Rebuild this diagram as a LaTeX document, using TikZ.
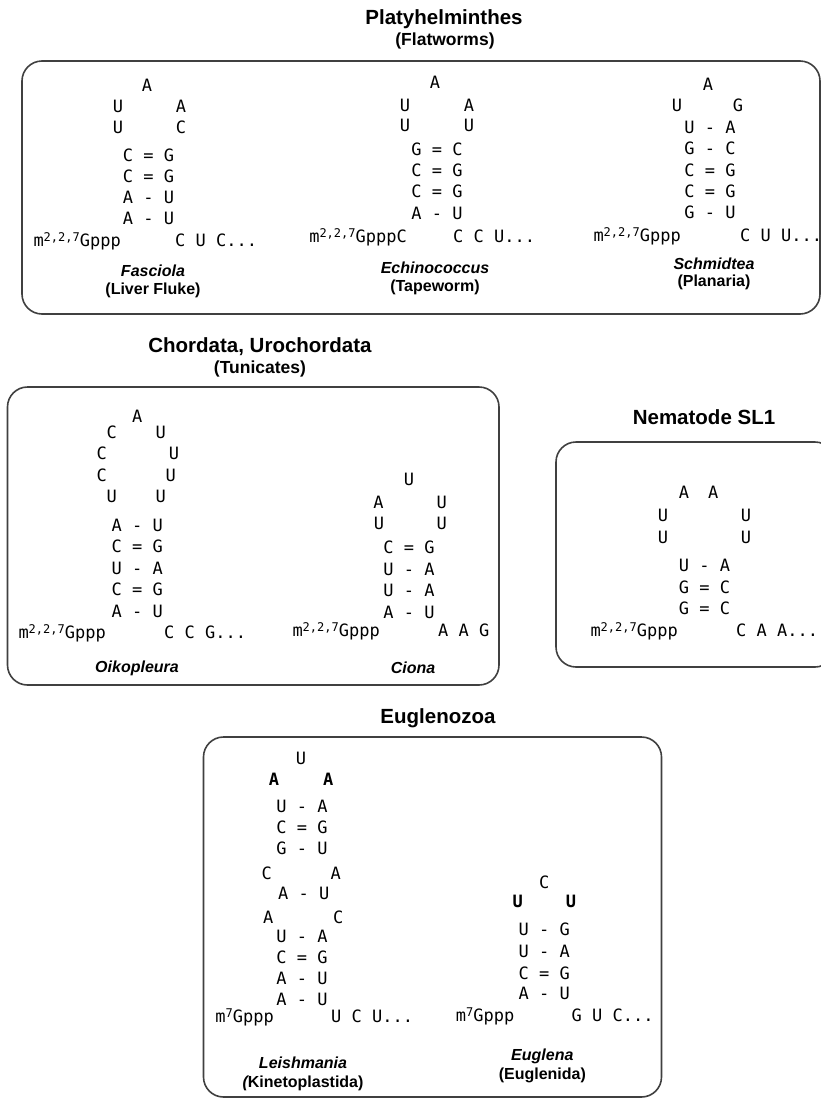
\documentclass[tikz,border=0pt]{standalone}
\usepackage{fontspec}
\setmainfont{Liberation Sans}
\newfontfamily\ntfont{DejaVu Sans Mono}
\newcommand\mcap[1]{m\raisebox{5pt}{\fontsize{12}{12}\selectfont #1}Gppp}
\tikzset{
 nt/.style={font=\ntfont\fontsize{17}{17}\selectfont, inner sep=0pt, text height=12.4pt, text depth=0pt},
 ntb/.style={nt, font=\ntfont\bfseries\fontsize{17}{17}\selectfont},
 ttl/.style={font=\bfseries\fontsize{20.5}{22}\selectfont, inner sep=0pt},
 subttl/.style={font=\bfseries\fontsize{17.5}{19}\selectfont, inner sep=0pt},
 spec/.style={font=\bfseries\itshape\fontsize{16}{18}\selectfont, inner sep=0pt},
 grp/.style={font=\bfseries\fontsize{16}{18}\selectfont, inner sep=0pt},
 panel/.style={draw=black!75, line width=1.6pt, rounded corners=20pt},
}
\begin{document}
\begin{tikzpicture}[x=1pt,y=-1pt]
\useasboundingbox (0,0) rectangle (821,1098);
\fill[white] (0,0) rectangle (821,1098);

% ---------------- Platyhelminthes ----------------
\node[ttl] (t1) at (444,19) {Platyhelminthes};
\node[subttl] (t1s) at (445,41) {(Flatworms)};
\draw[panel] (22,61) rectangle (820,314);

% Fasciola
\node[nt] (fa1) at (147,85) {A};
\node[nt] (fa2) at (118,106.5) {U};
\node[nt] (fa3) at (181,106.5) {A};
\node[nt] (fa4) at (118,127) {U};
\node[nt] (fa5) at (181,127) {C};
\node[nt] (fp1) at (148.5,155.5) {C = G};
\node[nt] (fp2) at (148.5,176.5) {C = G};
\node[nt] (fp3) at (148.5,197.5) {A - U};
\node[nt] (fp4) at (148.5,218.5) {A - U};
\node[nt,anchor=east] (fm) at (121,240) {\mcap{2,2,7}};
\node[nt,anchor=west] (ft) at (175,240) {C U C...};
\node[spec] (fs) at (153,271) {Fasciola};
\node[grp] (fg) at (153,290) {(Liver Fluke)};

% Echinococcus
\node[nt] (ea1) at (435,82.5) {A};
\node[nt] (ea2) at (405,105) {U};
\node[nt] (ea3) at (469,105) {A};
\node[nt] (ea4) at (405,125) {U};
\node[nt] (ea5) at (469,125) {U};
\node[nt] (ep1) at (437,149) {G = C};
\node[nt] (ep2) at (437,170) {C = G};
\node[nt] (ep3) at (437,191.5) {C = G};
\node[nt] (ep4) at (437,213) {A - U};
\node[nt,anchor=east] (em) at (407,236) {\mcap{2,2,7}C};
\node[nt,anchor=west] (et) at (453,236) {C C U...};
\node[spec] (es) at (435,268) {Echinococcus};
\node[grp] (eg) at (435,287) {(Tapeworm)};

% Schmidtea
\node[nt] (sa1) at (708,84) {A};
\node[nt] (sa2) at (677,105) {U};
\node[nt] (sa3) at (738,105) {G};
\node[nt] (sp1) at (710,127) {U - A};
\node[nt] (sp2) at (710,148.5) {G - C};
\node[nt] (sp3) at (710,170) {C = G};
\node[nt] (sp4) at (710,191) {C = G};
\node[nt] (sp5) at (710,212) {G - U};
\node[nt,anchor=east] (sm) at (681,235) {\mcap{2,2,7}};
\node[nt,anchor=west] (st) at (740,235) {C U U...};
\node[spec] (ss) at (714,264) {Schmidtea};
\node[grp] (sg) at (714,282) {(Planaria)};

% ---------------- Chordata ----------------
\node[ttl] (t2) at (260,347) {Chordata, Urochordata};
\node[subttl] (t2s) at (260,369) {(Tunicates)};
\draw[panel] (7.5,387) rectangle (499,685);

% Oikopleura
\node[nt] (oa1) at (137.3,416) {A};
\node[nt] (oa2) at (111.7,432) {C};
\node[nt] (oa3) at (160.7,432) {U};
\node[nt] (oa4) at (101.7,453.5) {C};
\node[nt] (oa5) at (174,453.5) {U};
\node[nt] (oa6) at (101.7,475) {C};
\node[nt] (oa7) at (170.7,475) {U};
\node[nt] (oa8) at (111.7,496) {U};
\node[nt] (oa9) at (160.7,496) {U};
\node[nt] (op1) at (137.3,525) {A - U};
\node[nt] (op2) at (137.3,546.5) {C = G};
\node[nt] (op3) at (137.3,568) {U - A};
\node[nt] (op4) at (137.3,589.5) {C = G};
\node[nt] (op5) at (137.3,611) {A - U};
\node[nt,anchor=east] (om) at (106,632) {\mcap{2,2,7}};
\node[nt,anchor=west] (ot) at (164,632) {C C G...};
\node[spec] (os) at (137,668) {Oikopleura};

% Ciona
\node[nt] (ca1) at (409,479) {U};
\node[nt] (ca2) at (378.5,502) {A};
\node[nt] (ca3) at (441.7,502) {U};
\node[nt] (ca4) at (379,523) {U};
\node[nt] (ca5) at (441.7,523) {U};
\node[nt] (cp1) at (409,547.5) {C = G};
\node[nt] (cp2) at (409,569) {U - A};
\node[nt] (cp3) at (409,590) {U - A};
\node[nt] (cp4) at (409,612) {A - U};
\node[nt,anchor=east] (cm) at (380,630) {\mcap{2,2,7}};
\node[nt,anchor=west] (ct) at (438,630) {A A G};
\node[spec] (cs) at (413,668) {Ciona};

% ---------------- Nematode ----------------
\node[ttl] (t3) at (704,417) {Nematode SL1};
\draw[panel] (556,442) rectangle (835,667);
\node[nt] (na1) at (684,492) {A};
\node[nt] (na2) at (713.3,492) {A};
\node[nt] (na3) at (663,515) {U};
\node[nt] (na4) at (746,515) {U};
\node[nt] (na5) at (663,537) {U};
\node[nt] (na6) at (746,537) {U};
\node[nt] (np1) at (704.5,565) {U - A};
\node[nt] (np2) at (704.5,587) {G = C};
\node[nt] (np3) at (704.5,608) {G = C};
\node[nt,anchor=east] (nm) at (678,630) {\mcap{2,2,7}};
\node[nt,anchor=west] (ntl) at (736,630) {C A A...};

% ---------------- Euglenozoa ----------------
\node[ttl] (t4) at (438,718) {Euglenozoa};
\draw[panel] (203.5,737) rectangle (661.5,1097);

% Leishmania
\node[nt] (la1) at (301,758.5) {U};
\node[ntb] (la2) at (274,779.5) {A};
\node[ntb] (la3) at (328.3,779.5) {A};
\node[nt] (lp1) at (302,806) {U - A};
\node[nt] (lp2) at (302,827.5) {C = G};
\node[nt] (lp3) at (302,848.5) {G - U};
\node[nt] (la4) at (266.7,873) {C};
\node[nt] (la5) at (335.7,873) {A};
\node[nt] (lp4) at (303.7,893) {A - U};
\node[nt] (la6) at (268.3,917) {A};
\node[nt] (la7) at (338.3,917) {C};
\node[nt] (lp5) at (302,936) {U - A};
\node[nt] (lp6) at (302,957) {C = G};
\node[nt] (lp7) at (302,978) {A - U};
\node[nt] (lp8) at (302,999.5) {A - U};
\node[nt,anchor=east] (lm) at (274,1016) {\mcap{7}};
\node[nt,anchor=west] (lt) at (331,1016) {U C U...};
\node[spec] (ls) at (303,1063) {Leishmania};
\node[grp] (lg) at (303,1083) {{\itshape(}Kinetoplastida)};

% Euglena
\node[nt] (ga1) at (544.3,882) {C};
\node[ntb] (ga2) at (517.7,901) {U};
\node[ntb] (ga3) at (571,901) {U};
\node[nt] (gp1) at (544.3,929.5) {U - G};
\node[nt] (gp2) at (544.3,951) {U - A};
\node[nt] (gp3) at (544.3,973) {C = G};
\node[nt] (gp4) at (544.3,993.5) {A - U};
\node[nt,anchor=east] (gm) at (514.5,1015) {\mcap{7}};
\node[nt,anchor=west] (gt) at (571.5,1015) {G U C...};
\node[spec] (gs) at (542.3,1056) {Euglena};
\node[grp] (gg) at (542.3,1075) {(Euglenida)};
\end{tikzpicture}
\end{document}
